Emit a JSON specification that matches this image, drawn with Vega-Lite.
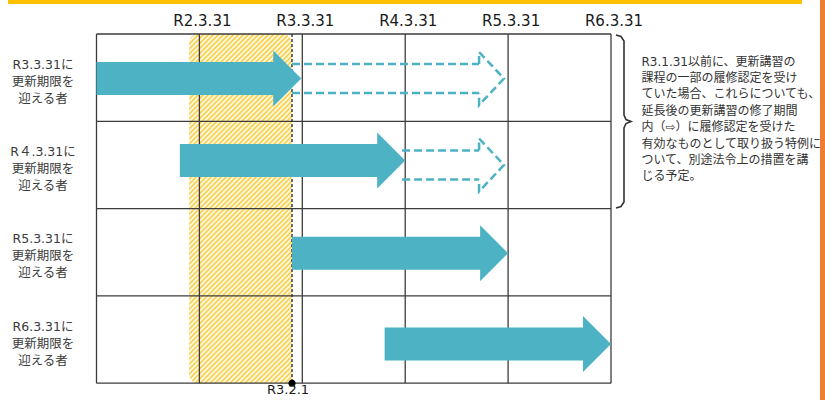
{
"$schema": "https://vega.github.io/schema/vega-lite/v6.json",
"width": 825, "height": 400, "padding": 0, "autosize": {"type": "none"},
"background": "white",
"config": {"view": {"stroke": null}},
"data": {"values": [{}]},
"datasets": {
 "period": [{"from": 1.9, "to": 2.9, "label": "R3.2.1"}],
 "vlines": [{"v": 1}, {"v": 2}, {"v": 3}, {"v": 4}, {"v": 5}, {"v": 6}],
 "hlines": [{"h": 0}, {"h": 1}, {"h": 2}, {"h": 3}, {"h": 4}],
 "ticks": [{"v": 2, "label": "R2.3.31"}, {"v": 3, "label": "R3.3.31"}, {"v": 4, "label": "R4.3.31"}, {"v": 5, "label": "R5.3.31"}, {"v": 6, "label": "R6.3.31"}],
 "arrows": [
  {"group": "R3.3.31", "lane": 0.51, "start": 1, "end": 2.99, "type": "solid"},
  {"group": "R4.3.31", "lane": 1.45, "start": 1.81, "end": 4.0, "type": "solid"},
  {"group": "R5.3.31", "lane": 2.51, "start": 2.9, "end": 5.0, "type": "solid"},
  {"group": "R6.3.31", "lane": 3.55, "start": 3.8, "end": 6.0, "type": "solid"},
  {"group": "R3.3.31", "lane": 0.51, "start": 2.9, "end": 4.96, "type": "dashed"},
  {"group": "R4.3.31", "lane": 1.5, "start": 3.97, "end": 4.96, "type": "dashed"}
 ],
 "groups": [
  {"lane": 0.5, "label": "R3.3.31に\n更新期限を\n迎える者"},
  {"lane": 1.5, "label": "R４.3.31に\n更新期限を\n迎える者"},
  {"lane": 2.5, "label": "R5.3.31に\n更新期限を\n迎える者"},
  {"lane": 3.5, "label": "R6.3.31に\n更新期限を\n迎える者"}
 ],
 "brace": [
  {"o": 1, "bx": 6.0486, "by": 0.0115}, {"o": 2, "bx": 6.0972, "by": 0.0286}, {"o": 3, "bx": 6.1263, "by": 0.0802},
  {"o": 4, "bx": 6.1263, "by": 0.9278}, {"o": 5, "bx": 6.1458, "by": 0.9794}, {"o": 6, "bx": 6.1944, "by": 1.0023},
  {"o": 7, "bx": 6.1458, "by": 1.0252}, {"o": 8, "bx": 6.1263, "by": 1.0767}, {"o": 9, "bx": 6.1263, "by": 1.9244},
  {"o": 10, "bx": 6.0972, "by": 1.9759}, {"o": 11, "bx": 6.0486, "by": 1.9931}
 ],
 "note": [{"text": "R3.1.31以前に、更新講習の\n課程の一部の履修認定を受け\nていた場合、これらについても、\n延長後の更新講習の修了期間\n内（⇨）に履修認定を受けた\n有効なものとして取り扱う特例に\nついて、別途法令上の措置を講\nじる予定。"}]
},
"layer": [
 {"mark": {"type": "rect", "fill": "#ffc000"},
  "encoding": {"x": {"datum": 0.14, "type": "quantitative", "scale": {"domain": [0.0622, 8.0797], "nice": false, "zero": false}, "axis": null}, "x2": {"datum": 7.856},
   "y": {"datum": -0.45, "type": "quantitative", "scale": {"domain": [-0.3895, 4.1924], "nice": false, "zero": false, "reverse": true}, "axis": null}, "y2": {"datum": -0.344}}},
 {"mark": {"type": "rect", "fill": "#ed7d31"},
  "encoding": {"x": {"datum": 8.031, "type": "quantitative", "axis": null}, "x2": {"datum": 8.3},
   "y": {"datum": -0.45, "type": "quantitative", "axis": null}, "y2": {"datum": 4.3}}},
 {"data": {"name": "period"},
  "mark": {"type": "rect", "cornerRadiusTopLeft": 9, "cornerRadiusTopRight": 9, "cornerRadiusBottomLeft": 9,
   "fill": {"gradient": "linear", "x1": 0, "y1": 0, "x2": 0.3889, "y2": 1.3179, "stops": [
{"offset":0,"color":"#f6cc3a"},{"offset":0.005,"color":"#fff"},{"offset":0.01,"color":"#f6cc3a"},{"offset":0.015,"color":"#fff"},{"offset":0.02,"color":"#f6cc3a"},{"offset":0.025,"color":"#fff"},{"offset":0.03,"color":"#f6cc3a"},{"offset":0.035,"color":"#fff"},{"offset":0.04,"color":"#f6cc3a"},{"offset":0.045,"color":"#fff"},{"offset":0.05,"color":"#f6cc3a"},{"offset":0.055,"color":"#fff"},{"offset":0.06,"color":"#f6cc3a"},{"offset":0.065,"color":"#fff"},{"offset":0.07,"color":"#f6cc3a"},{"offset":0.075,"color":"#fff"},{"offset":0.08,"color":"#f6cc3a"},{"offset":0.085,"color":"#fff"},{"offset":0.09,"color":"#f6cc3a"},{"offset":0.095,"color":"#fff"},
{"offset":0.1,"color":"#f6cc3a"},{"offset":0.105,"color":"#fff"},{"offset":0.11,"color":"#f6cc3a"},{"offset":0.115,"color":"#fff"},{"offset":0.12,"color":"#f6cc3a"},{"offset":0.125,"color":"#fff"},{"offset":0.13,"color":"#f6cc3a"},{"offset":0.135,"color":"#fff"},{"offset":0.14,"color":"#f6cc3a"},{"offset":0.145,"color":"#fff"},{"offset":0.15,"color":"#f6cc3a"},{"offset":0.155,"color":"#fff"},{"offset":0.16,"color":"#f6cc3a"},{"offset":0.165,"color":"#fff"},{"offset":0.17,"color":"#f6cc3a"},{"offset":0.175,"color":"#fff"},{"offset":0.18,"color":"#f6cc3a"},{"offset":0.185,"color":"#fff"},{"offset":0.19,"color":"#f6cc3a"},{"offset":0.195,"color":"#fff"},
{"offset":0.2,"color":"#f6cc3a"},{"offset":0.205,"color":"#fff"},{"offset":0.21,"color":"#f6cc3a"},{"offset":0.215,"color":"#fff"},{"offset":0.22,"color":"#f6cc3a"},{"offset":0.225,"color":"#fff"},{"offset":0.23,"color":"#f6cc3a"},{"offset":0.235,"color":"#fff"},{"offset":0.24,"color":"#f6cc3a"},{"offset":0.245,"color":"#fff"},{"offset":0.25,"color":"#f6cc3a"},{"offset":0.255,"color":"#fff"},{"offset":0.26,"color":"#f6cc3a"},{"offset":0.265,"color":"#fff"},{"offset":0.27,"color":"#f6cc3a"},{"offset":0.275,"color":"#fff"},{"offset":0.28,"color":"#f6cc3a"},{"offset":0.285,"color":"#fff"},{"offset":0.29,"color":"#f6cc3a"},{"offset":0.295,"color":"#fff"},
{"offset":0.3,"color":"#f6cc3a"},{"offset":0.305,"color":"#fff"},{"offset":0.31,"color":"#f6cc3a"},{"offset":0.315,"color":"#fff"},{"offset":0.32,"color":"#f6cc3a"},{"offset":0.325,"color":"#fff"},{"offset":0.33,"color":"#f6cc3a"},{"offset":0.335,"color":"#fff"},{"offset":0.34,"color":"#f6cc3a"},{"offset":0.345,"color":"#fff"},{"offset":0.35,"color":"#f6cc3a"},{"offset":0.355,"color":"#fff"},{"offset":0.36,"color":"#f6cc3a"},{"offset":0.365,"color":"#fff"},{"offset":0.37,"color":"#f6cc3a"},{"offset":0.375,"color":"#fff"},{"offset":0.38,"color":"#f6cc3a"},{"offset":0.385,"color":"#fff"},{"offset":0.39,"color":"#f6cc3a"},{"offset":0.395,"color":"#fff"},
{"offset":0.4,"color":"#f6cc3a"},{"offset":0.405,"color":"#fff"},{"offset":0.41,"color":"#f6cc3a"},{"offset":0.415,"color":"#fff"},{"offset":0.42,"color":"#f6cc3a"},{"offset":0.425,"color":"#fff"},{"offset":0.43,"color":"#f6cc3a"},{"offset":0.435,"color":"#fff"},{"offset":0.44,"color":"#f6cc3a"},{"offset":0.445,"color":"#fff"},{"offset":0.45,"color":"#f6cc3a"},{"offset":0.455,"color":"#fff"},{"offset":0.46,"color":"#f6cc3a"},{"offset":0.465,"color":"#fff"},{"offset":0.47,"color":"#f6cc3a"},{"offset":0.475,"color":"#fff"},{"offset":0.48,"color":"#f6cc3a"},{"offset":0.485,"color":"#fff"},{"offset":0.49,"color":"#f6cc3a"},{"offset":0.495,"color":"#fff"},
{"offset":0.5,"color":"#f6cc3a"},{"offset":0.505,"color":"#fff"},{"offset":0.51,"color":"#f6cc3a"},{"offset":0.515,"color":"#fff"},{"offset":0.52,"color":"#f6cc3a"},{"offset":0.525,"color":"#fff"},{"offset":0.53,"color":"#f6cc3a"},{"offset":0.535,"color":"#fff"},{"offset":0.54,"color":"#f6cc3a"},{"offset":0.545,"color":"#fff"},{"offset":0.55,"color":"#f6cc3a"},{"offset":0.555,"color":"#fff"},{"offset":0.56,"color":"#f6cc3a"},{"offset":0.565,"color":"#fff"},{"offset":0.57,"color":"#f6cc3a"},{"offset":0.575,"color":"#fff"},{"offset":0.58,"color":"#f6cc3a"},{"offset":0.585,"color":"#fff"},{"offset":0.59,"color":"#f6cc3a"},{"offset":0.595,"color":"#fff"},
{"offset":0.6,"color":"#f6cc3a"},{"offset":0.605,"color":"#fff"},{"offset":0.61,"color":"#f6cc3a"},{"offset":0.615,"color":"#fff"},{"offset":0.62,"color":"#f6cc3a"},{"offset":0.625,"color":"#fff"},{"offset":0.63,"color":"#f6cc3a"},{"offset":0.635,"color":"#fff"},{"offset":0.64,"color":"#f6cc3a"},{"offset":0.645,"color":"#fff"},{"offset":0.65,"color":"#f6cc3a"},{"offset":0.655,"color":"#fff"},{"offset":0.66,"color":"#f6cc3a"},{"offset":0.665,"color":"#fff"},{"offset":0.67,"color":"#f6cc3a"},{"offset":0.675,"color":"#fff"},{"offset":0.68,"color":"#f6cc3a"},{"offset":0.685,"color":"#fff"},{"offset":0.69,"color":"#f6cc3a"},{"offset":0.695,"color":"#fff"},
{"offset":0.7,"color":"#f6cc3a"},{"offset":0.705,"color":"#fff"},{"offset":0.71,"color":"#f6cc3a"},{"offset":0.715,"color":"#fff"},{"offset":0.72,"color":"#f6cc3a"},{"offset":0.725,"color":"#fff"},{"offset":0.73,"color":"#f6cc3a"},{"offset":0.735,"color":"#fff"},{"offset":0.74,"color":"#f6cc3a"},{"offset":0.745,"color":"#fff"},{"offset":0.75,"color":"#f6cc3a"},{"offset":0.755,"color":"#fff"},{"offset":0.76,"color":"#f6cc3a"},{"offset":0.765,"color":"#fff"},{"offset":0.77,"color":"#f6cc3a"},{"offset":0.775,"color":"#fff"},{"offset":0.78,"color":"#f6cc3a"},{"offset":0.785,"color":"#fff"},{"offset":0.79,"color":"#f6cc3a"},{"offset":0.795,"color":"#fff"},
{"offset":0.8,"color":"#f6cc3a"},{"offset":0.805,"color":"#fff"},{"offset":0.81,"color":"#f6cc3a"},{"offset":0.815,"color":"#fff"},{"offset":0.82,"color":"#f6cc3a"},{"offset":0.825,"color":"#fff"},{"offset":0.83,"color":"#f6cc3a"},{"offset":0.835,"color":"#fff"},{"offset":0.84,"color":"#f6cc3a"},{"offset":0.845,"color":"#fff"},{"offset":0.85,"color":"#f6cc3a"},{"offset":0.855,"color":"#fff"},{"offset":0.86,"color":"#f6cc3a"},{"offset":0.865,"color":"#fff"},{"offset":0.87,"color":"#f6cc3a"},{"offset":0.875,"color":"#fff"},{"offset":0.88,"color":"#f6cc3a"},{"offset":0.885,"color":"#fff"},{"offset":0.89,"color":"#f6cc3a"},{"offset":0.895,"color":"#fff"},
{"offset":0.9,"color":"#f6cc3a"},{"offset":0.905,"color":"#fff"},{"offset":0.91,"color":"#f6cc3a"}
   ]}},
  "encoding": {"x": {"field": "from", "type": "quantitative", "axis": null}, "x2": {"field": "to"},
   "y": {"datum": 0, "type": "quantitative", "axis": null}, "y2": {"datum": 4}}},
 {"data": {"name": "vlines"},
  "mark": {"type": "rule", "stroke": "#3c3c3c", "strokeWidth": 1.3},
  "encoding": {"x": {"field": "v", "type": "quantitative", "axis": null}, "y": {"datum": 0, "type": "quantitative", "axis": null}, "y2": {"datum": 4}}},
 {"data": {"name": "hlines"},
  "mark": {"type": "rule", "stroke": "#3c3c3c", "strokeWidth": 1.3},
  "encoding": {"y": {"field": "h", "type": "quantitative", "axis": null}, "x": {"datum": 1, "type": "quantitative", "axis": null}, "x2": {"datum": 6}}},
 {"data": {"name": "period"},
  "mark": {"type": "rule", "stroke": "#222", "strokeWidth": 1.3, "strokeDash": [3, 2]},
  "encoding": {"x": {"field": "to", "type": "quantitative", "axis": null}, "y": {"datum": 0, "type": "quantitative", "axis": null}, "y2": {"datum": 4}}},
 {"data": {"name": "arrows"}, "transform": [{"filter": "datum.type === 'dashed'"}],
  "mark": {"type": "rule", "stroke": "#4db3c4", "strokeWidth": 2.5, "strokeDash": [8, 4], "yOffset": -14.5, "y2Offset": -14.5, "x2Offset": -25},
  "encoding": {"x": {"field": "start", "type": "quantitative", "axis": null}, "x2": {"field": "end"}, "y": {"field": "lane", "type": "quantitative", "axis": null}, "y2": {"field": "lane"}}},
 {"data": {"name": "arrows"}, "transform": [{"filter": "datum.type === 'dashed'"}],
  "mark": {"type": "rule", "stroke": "#4db3c4", "strokeWidth": 2.5, "strokeDash": [8, 4], "yOffset": 14.5, "y2Offset": 14.5, "x2Offset": -25},
  "encoding": {"x": {"field": "start", "type": "quantitative", "axis": null}, "x2": {"field": "end"}, "y": {"field": "lane", "type": "quantitative", "axis": null}, "y2": {"field": "lane"}}},
 {"data": {"name": "arrows"}, "transform": [{"filter": "datum.type === 'dashed'"}],
  "mark": {"type": "point", "shape": "M-0.94,-0.55L-0.94,-1L0,0L-0.94,1L-0.94,0.55", "size": 2809, "filled": false, "opacity": 1, "stroke": "#4db3c4", "strokeWidth": 2.5, "strokeDash": [8, 4]},
  "encoding": {"x": {"field": "end", "type": "quantitative", "axis": null}, "y": {"field": "lane", "type": "quantitative", "axis": null}}},
 {"data": {"name": "arrows"}, "transform": [{"filter": "datum.type === 'solid'"}],
  "mark": {"type": "rect", "fill": "#4db3c4", "yOffset": -16.5, "y2Offset": 16.5, "x2Offset": -27},
  "encoding": {"x": {"field": "start", "type": "quantitative", "axis": null}, "x2": {"field": "end"}, "y": {"field": "lane", "type": "quantitative", "axis": null}, "y2": {"field": "lane"}}},
 {"data": {"name": "arrows"}, "transform": [{"filter": "datum.type === 'solid'"}],
  "mark": {"type": "point", "shape": "M-1,-1L0,0L-1,1Z", "size": 3136, "filled": true, "opacity": 1, "fill": "#4db3c4", "strokeWidth": 0},
  "encoding": {"x": {"field": "end", "type": "quantitative", "axis": null}, "y": {"field": "lane", "type": "quantitative", "axis": null}}},
 {"data": {"name": "period"},
  "mark": {"type": "point", "shape": "circle", "size": 50, "filled": true, "opacity": 1, "fill": "#000"},
  "encoding": {"x": {"field": "to", "type": "quantitative", "axis": null}, "y": {"datum": 4, "type": "quantitative", "axis": null}}},
 {"data": {"name": "period"},
  "mark": {"type": "text", "font": "DejaVu Sans", "fontSize": 13, "fill": "#1a1a1a", "align": "center", "baseline": "alphabetic", "dx": -4},
  "encoding": {"x": {"field": "to", "type": "quantitative", "axis": null}, "y": {"datum": 4.12, "type": "quantitative", "axis": null}, "text": {"field": "label"}}},
 {"data": {"name": "ticks"},
  "mark": {"type": "text", "font": "DejaVu Sans", "fontSize": 15, "fill": "#1a1a1a", "align": "center", "baseline": "alphabetic", "dx": 3},
  "encoding": {"x": {"field": "v", "type": "quantitative", "axis": null}, "y": {"datum": -0.095, "type": "quantitative", "axis": null}, "text": {"field": "label"}}},
 {"data": {"name": "groups"},
  "mark": {"type": "text", "font": "DejaVu Sans, Noto Sans CJK JP", "fontSize": 12.5, "fill": "#3a3a3a", "align": "center", "baseline": "middle", "lineBreak": "\n", "lineHeight": 17, "yOffset": -13},
  "encoding": {"x": {"datum": 0.48, "type": "quantitative", "axis": null}, "y": {"field": "lane", "type": "quantitative", "axis": null}, "text": {"field": "label"}}},
 {"data": {"name": "brace"},
  "mark": {"type": "line", "stroke": "#333", "strokeWidth": 1.6, "interpolate": "linear"},
  "encoding": {"x": {"field": "bx", "type": "quantitative", "axis": null}, "y": {"field": "by", "type": "quantitative", "axis": null}, "order": {"field": "o"}}},
 {"data": {"name": "note"},
  "mark": {"type": "text", "font": "DejaVu Sans, Noto Sans CJK JP", "fontSize": 12, "fill": "#333", "align": "left", "baseline": "middle", "lineBreak": "\n", "lineHeight": 16.4},
  "encoding": {"x": {"datum": 6.296, "type": "quantitative", "axis": null}, "y": {"datum": 0.317, "type": "quantitative", "axis": null}, "text": {"field": "text"}}}
]
}
